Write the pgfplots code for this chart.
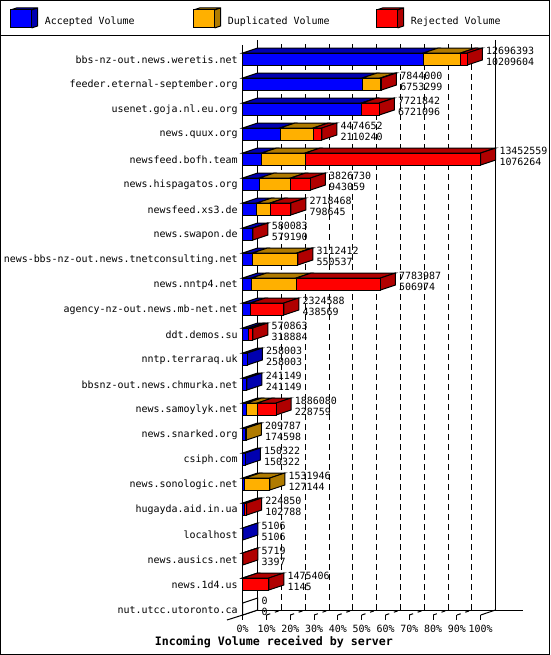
\documentclass[border=0pt]{standalone}
\usepackage{pgfplots}
\usepackage{pgfplotstable}
\usepackage{fontspec}
\setmainfont{DejaVu Sans Mono}
\pgfplotsset{compat=1.18}
\definecolor{cblue}{HTML}{0000FF}
\definecolor{dblue}{HTML}{0000B0}
\definecolor{corange}{HTML}{FFB000}
\definecolor{dorange}{HTML}{B07B00}
\definecolor{cred}{HTML}{FF0000}
\definecolor{dred}{HTML}{B00000}
\pgfplotstableread[col sep=space]{
row A D R T name
1 10209604 2110000 376789 12696393 bbs-nz-out.news.weretis.net
2 6753299 1030000 60701 7844000 feeder.eternal-september.org
3 6721096 20000 980746 7721842 usenet.goja.nl.eu.org
4 2110240 1880000 484412 4474652 news.quux.org
5 1076264 2460000 9916295 13452559 newsfeed.bofh.team
6 943059 1770000 1113671 3826730 news.hispagatos.org
7 798645 760000 1159823 2718468 newsfeed.xs3.de
8 579190 0 893 580083 news.swapon.de
9 550537 2520000 41875 3112412 news-bbs-nz-out.news.tnetconsulting.net
10 506974 2520000 4757013 7783987 news.nntp4.net
11 438569 0 1886019 2324588 agency-nz-out.news.mb-net.net
12 318884 0 251979 570863 ddt.demos.su
13 258003 0 0 258003 nntp.terraraq.uk
14 241149 0 0 241149 bbsnz-out.news.chmurka.net
15 228759 600000 1057321 1886080 news.samoylyk.net
16 174598 35189 0 209787 news.snarked.org
17 150322 0 0 150322 csiph.com
18 127144 1404802 0 1531946 news.sonologic.net
19 102788 0 122062 224850 hugayda.aid.in.ua
20 5106 0 0 5106 localhost
21 3397 0 2322 5719 news.ausics.net
22 1145 0 1474261 1475406 news.1d4.us
23 0 0 0 0 nut.utcc.utoronto.ca
}\datatable
% faces in data coordinates: offset of the depth = 15 px = 847850 units, 5 px = 0.2 row
\newcommand\TopFace[4]{\addplot[no markers,forget plot,fill=#1,draw=black,line width=.75pt] coordinates {(#2,#4-0.24)(\fpeval{#2+847850},#4-0.44)(\fpeval{#3+847850},#4-0.44)(#3,#4-0.24)} --cycle;}
\newcommand\SideFace[3]{\addplot[no markers,forget plot,fill=#1,draw=black,line width=.75pt] coordinates {(#2,#3-0.24)(\fpeval{#2+847850},#3-0.44)(\fpeval{#2+847850},#3+0.04)(#2,#3+0.24)} --cycle;}
\newcommand\LegendCube[4]{%
  \fill[#2] (#1,10) -- (#1+6,8) -- (#1+27,8) -- (#1+27,26) -- (#1+21,28) -- (#1+21,10) -- cycle;
  \draw[line width=.75pt] (#1,10) -- (#1+6,8) -- (#1+27,8) -- (#1+27,26) -- (#1+21,28) (#1+21,10) -- (#1+27,8);
  \draw[line width=.75pt,fill=#3] (#1,10) rectangle (#1+21,28);
  \node[anchor=west,inner sep=0pt,font=\fontsize{7.47pt}{9pt}\selectfont] at (#1+34,21.3) {#4};
}
\begin{document}
\begin{tikzpicture}
\begin{scope}[x=0.75pt,y=-0.75pt]
  \useasboundingbox (0,0) rectangle (550,655);
  \fill[white] (0,0) rectangle (550,655);
  \draw[line width=.75pt] (0.5,0.5) rectangle (549.5,654.5);
  \draw[line width=.75pt] (0,35.5) -- (550,35.5);
  \LegendCube{10.5}{dblue}{cblue}{Accepted Volume}
  \LegendCube{193.5}{dorange}{corange}{Duplicated Volume}
  \LegendCube{376.5}{dred}{cred}{Rejected Volume}
  % frame of the plot
  \draw[line width=.75pt] (242.7,45) -- (242.7,615);
  \draw[line width=.75pt] (257.7,40) -- (257.7,610) -- (523,610);
  \draw[line width=.75pt] (495.5,40) -- (495.5,610);
  \draw[line width=.75pt] (227,620) -- (242.7,615) -- (257.7,610);
  \draw[line width=.75pt] (480.7,615) -- (495.5,610);
  \foreach \k in {0,...,10} {
    \pgfmathsetmacro\xx{242.7+23.8*\k}
    \draw[line width=.75pt] (\xx,615) -- (\xx,620);
    \ifnum\k>0 \ifnum\k<10
      \draw[line width=.75pt,dash pattern=on 3pt off 3.6pt] (\xx,615) -- (\xx+15,610);
      \draw[line width=.75pt,dash pattern=on 4.5pt off 3pt] (\xx+15,610) -- (\xx+15,40);
    \fi\fi
  }
\end{scope}
\begin{scope}[shift={(242.7*0.75pt,-621.5*0.75pt)}]
\begin{axis}[
  at={(0,0)},anchor=south west,
  scale only axis,width=178.5pt,height=431.25pt,
  xmin=0,xmax=13452559,ymin=0.5,ymax=23.5,y dir=reverse,
  clip=false,
  scaled ticks=false,
  axis line style={draw=none},major tick length=0pt,
  xtick={0,1345256,2690512,4035768,5381024,6726280,8071536,9416791,10762047,12107303,13452559},
  xticklabels={0\%,10\%,20\%,30\%,40\%,50\%,60\%,70\%,80\%,90\%,100\%},
  ytick={1,...,23},
  yticklabels from table={\datatable}{name},
  tick label style={font=\fontsize{7.47pt}{9pt}\selectfont,inner sep=0pt},
  y tick label style={anchor=east,xshift=-3.6pt,yshift=-0.75pt},
  x tick label style={anchor=center,yshift=-5.3pt},
  xlabel={Incoming Volume received by server},
  every axis x label/.style={at={(axis description cs:0.1315,-0.0357)},anchor=center,inner sep=0pt,font=\fontsize{8.72pt}{10pt}\selectfont\bfseries},
]
\pgfplotsinvokeforeach{0,...,22}{
  \pgfplotstablegetelem{#1}{A}\of\datatable \let\vA\pgfplotsretval
  \pgfplotstablegetelem{#1}{D}\of\datatable \let\vD\pgfplotsretval
  \pgfplotstablegetelem{#1}{R}\of\datatable \let\vR\pgfplotsretval
  \pgfplotstablegetelem{#1}{T}\of\datatable \let\vT\pgfplotsretval
  \pgfplotstablegetelem{#1}{row}\of\datatable \let\vY\pgfplotsretval
  \edef\vAD{\fpeval{\vA+\vD}}
  \ifnum\vA>0 \edef\next{\noexpand\TopFace{dblue}{0}{\vA}{\vY}}\next\fi
  \ifnum\vD>0 \edef\next{\noexpand\TopFace{dorange}{\vA}{\vAD}{\vY}}\next\fi
  \ifnum\vR>0 \edef\next{\noexpand\TopFace{dred}{\vAD}{\vT}{\vY}}\next\fi
  \def\sc{white}
  \ifnum\vA>0 \def\sc{dblue}\fi
  \ifnum\vD>0 \def\sc{dorange}\fi
  \ifnum\vR>0 \def\sc{dred}\fi
  \edef\next{\noexpand\SideFace{\sc}{\vT}{\vY}}\next
}
\addplot[only marks,mark=none,forget plot,point meta=explicit symbolic,
  nodes near coords,nodes near coords align={anchor=west},
  every node near coord/.append style={font=\fontsize{7.47pt}{9pt}\selectfont,inner sep=0pt,anchor=west,xshift=13.9pt,yshift=6.0pt,color=black}]
  table[x=T,y=row,meta=T]{\datatable};
\addplot[only marks,mark=none,forget plot,point meta=explicit symbolic,
  nodes near coords,nodes near coords align={anchor=west},
  every node near coord/.append style={font=\fontsize{7.47pt}{9pt}\selectfont,inner sep=0pt,anchor=west,xshift=13.9pt,yshift=-2.3pt,color=black}]
  table[x=T,y=row,meta=A]{\datatable};
\end{axis}
\begin{axis}[
  at={(0,0)},anchor=south west,
  scale only axis,width=178.5pt,height=431.25pt,
  xmin=0,xmax=13452559,ymin=0.5,ymax=23.5,y dir=reverse,
  clip=false,hide axis,
  xbar stacked,bar width=9pt,
]
\addplot[fill=cblue,draw=black,line width=.75pt] table[x=A,y=row]{\datatable};
\addplot[fill=corange,draw=black,line width=.75pt] table[x=D,y=row]{\datatable};
\addplot[fill=cred,draw=black,line width=.75pt] table[x=R,y=row]{\datatable};
\end{axis}
\end{scope}
\end{tikzpicture}
\end{document}
